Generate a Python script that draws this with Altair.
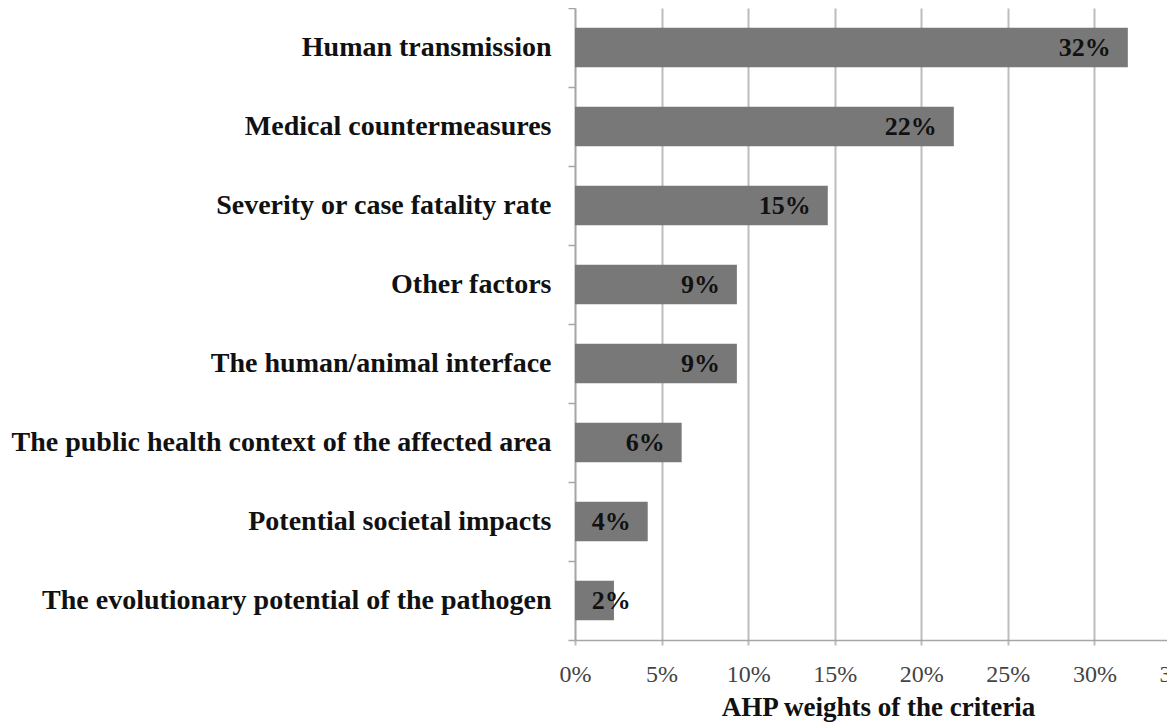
import altair as alt
import pandas as pd

categories = [
    "Human transmission",
    "Medical countermeasures",
    "Severity or case fatality rate",
    "Other factors",
    "The human/animal interface",
    "The public health context of the affected area",
    "Potential societal impacts",
    "The evolutionary potential of the pathogen",
]
weights = [0.3193, 0.2188, 0.146, 0.0935, 0.0935, 0.0616, 0.042, 0.0225]
labels = ["32%", "22%", "15%", "9%", "9%", "6%", "4%", "2%"]
tick_values = [0, 0.05, 0.10, 0.15, 0.20, 0.25, 0.30, 0.35]

df = pd.DataFrame({"criterion": categories, "weight": weights, "label": labels})

FONT = "Liberation Serif"
GRID = "#bdbdbd"
DOMAIN = "#a6a6a6"

x_scale = alt.Scale(domain=[0, 0.35], range=[0, 606], nice=False, zero=True)
y_scale = alt.Scale(paddingInner=0, paddingOuter=0)

y_enc = alt.Y(
    "criterion:N",
    sort=categories,
    scale=y_scale,
    axis=alt.Axis(
        title=None,
        labelFont=FONT,
        labelFontWeight="bold",
        labelFontSize=28,
        labelColor="#111111",
        labelPadding=17,
        labelLimit=1000,
        tickSize=7,
        tickColor=DOMAIN,
        tickWidth=1.5,
        tickBand="extent",
        domainColor=DOMAIN,
        domainWidth=1.5,
        grid=False,
    ),
)

bars = alt.Chart(df).mark_bar(color="#787878", height={"band": 0.5}).encode(
    y=y_enc,
    x=alt.X(
        "weight:Q",
        scale=x_scale,
        axis=alt.Axis(
            values=tick_values,
            format=".0%",
            title="AHP weights of the criteria",
            titleFont=FONT,
            titleFontWeight="bold",
            titleFontSize=27,
            titleColor="#111111",
            titlePadding=8,
            labelFont=FONT,
            labelFontSize=24,
            labelColor="#444444",
            labelPadding=17,
            labelFlush=False,
            labelOverlap=False,
            tickSize=5,
            tickColor=GRID,
            tickWidth=2,
            grid=True,
            gridColor=GRID,
            gridWidth=2,
            domainColor=DOMAIN,
            domainWidth=1.5,
        ),
    ),
)

text = (
    alt.Chart(df)
    .transform_calculate(label_x="max(datum.weight, 0.042)")
    .mark_text(
        align="right",
        baseline="middle",
        dx=-17,
        font=FONT,
        fontWeight="bold",
        fontSize=26,
        color="#111111",
    )
    .encode(
        y=alt.Y("criterion:N", sort=categories, scale=y_scale),
        x=alt.X("label_x:Q", scale=x_scale),
        text="label:N",
    )
)

chart = (
    alt.layer(bars, text)
    .properties(
        width=592,
        height=632,
        autosize=alt.AutoSizeParams(type="none"),
        padding={"left": 567, "top": 0, "right": 0, "bottom": 86},
        background="white",
    )
    .configure_view(stroke=None)
)

chart.save("out.html", embed_options={"renderer": "svg", "actions": False})
